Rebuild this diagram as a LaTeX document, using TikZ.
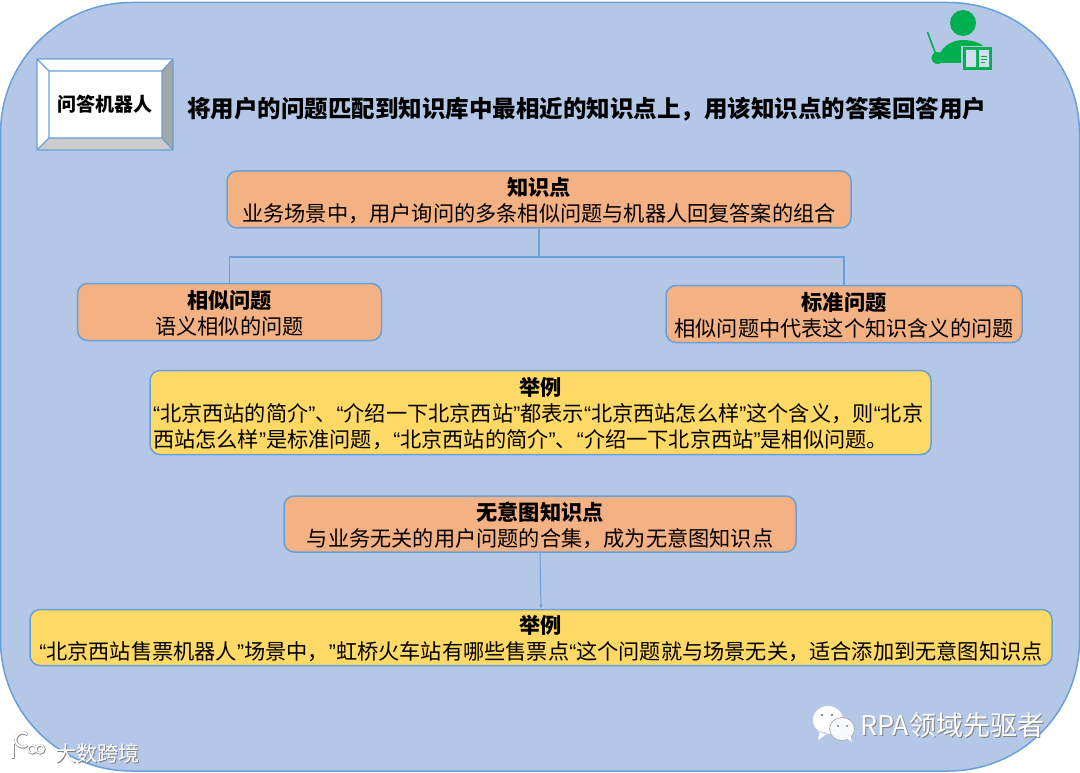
\documentclass[tikz,border=0pt]{standalone}
\usepackage{fontspec}
\setmainfont{Noto Sans CJK SC}
\newfontfamily\quotefont{Liberation Sans}
\newcommand{\openq}{{\quotefont “}}
\newcommand{\closeq}{{\quotefont ”}}
\newcommand{\toplabel}[1]{\rule{0pt}{21pt}\textbf{#1}}
\usepackage{xcolor}
\usetikzlibrary{arrows.meta,positioning,calc}
\definecolor{panelblue}{RGB}{180,199,231}
\definecolor{edgeblue}{RGB}{105,160,215}
\definecolor{peach}{RGB}{244,177,131}
\definecolor{butter}{RGB}{255,217,102}
\definecolor{icongreen}{RGB}{0,176,80}

\begin{document}
\begin{tikzpicture}[
    x=1pt, y=-1pt,
    topic/.style={draw=edgeblue, line width=1.5pt, rounded corners=10pt, fill=peach, text=black, inner sep=0pt,
                  font=\fontsize{21.2}{26}\selectfont, align=center},
    sample/.style={topic, fill=butter},
    line/.style={draw=edgeblue, line width=1.5pt},
    stamp/.style={text=white, inner sep=0pt, anchor=west},
    stampshade/.style={text=black!50, inner sep=0pt, anchor=west}
]
\useasboundingbox (0,0) rectangle (1080,773);
\fill[white] (0,0) rectangle (1080,773);
% background panel
\draw[draw=edgeblue, line width=1.5pt, fill=panelblue, rounded corners=131pt] (0.5,2.5) rectangle (1079.5,771);

% bevel box
\fill[white] (37,59) rectangle (173,150);
\fill[black!35] (173,59) -- (162,71) -- (162,138) -- (173,150) -- cycle;
\fill[black!20] (37,150) -- (49,138) -- (162,138) -- (173,150) -- cycle;
\draw[edgeblue, line width=1.2pt] (37,59) rectangle (173,150) (49,71) rectangle (162,138)
  (37,59) -- (49,71) (173,59) -- (162,71) (173,150) -- (162,138) (37,150) -- (49,138);
\node[inner sep=0pt, font=\fontsize{19}{24}\selectfont\bfseries] (robot) at (105,104.5) {问答机器人};
\node[inner sep=0pt, anchor=west, font=\fontsize{23.5}{28}\selectfont\bfseries] (headline) at (187,109)
     {将用户的问题匹配到知识库中最相近的知识点上，用该知识点的答案回答用户};

% teacher icon
\fill[icongreen] (963,23) circle (13);
\fill[icongreen] (938,63) .. controls (938,47) and (952,40) .. (963,40) .. controls (974,40) and (984,44) .. (986,50) -- (986,63) -- cycle;
\draw[icongreen, line width=1.6pt] (927.5,32) -- (936,55);
\fill[icongreen] (937.5,58) circle (6);
\fill[panelblue] (961,46) rectangle (993,71);
\fill[icongreen] (963,47) rectangle (992,70);
\fill[panelblue!60!white] (966,50) rectangle (976,67) (979,50) rectangle (989,67);
\draw[icongreen, line width=0.8pt] (981,56) -- (987,56) (981,59) -- (987,59) (981,62) -- (985,62);

\node[topic, minimum width=624pt, minimum height=57pt] (know) at (539,199.5)
     {\toplabel{知识点}\\业务场景中，用户询问的多条相似问题与机器人回复答案的组合};
\node[topic, minimum width=304pt, minimum height=57pt, below=54pt of know, xshift=-309.5pt] (similar)
     {\toplabel{相似问题}\\语义相似的问题};
\node[topic, minimum width=356pt, minimum height=57pt, below=56pt of know, xshift=305pt] (standard)
     {\toplabel{标准问题}\\相似问题中代表这个知识含义的问题};
\node[sample, minimum width=781pt, minimum height=84pt, below=141pt of know, xshift=1.5pt] (case)
     {\toplabel{举例}\\\makebox[775pt][l]{\openq 北京西站的简介\closeq 、\openq 介绍一下北京西站\closeq 都表示\openq 北京西站怎么样\closeq 这个含义，则\openq 北京}\\\makebox[775pt][l]{西站怎么样\closeq 是标准问题，\openq 北京西站的简介\closeq 、\openq 介绍一下北京西站\closeq 是相似问题。}};
\node[topic, minimum width=512pt, minimum height=56pt, below=40pt of case, xshift=-0.5pt] (nointent)
     {\toplabel{无意图知识点}\\与业务无关的用户问题的合集，成为无意图知识点};
\node[sample, minimum width=1022pt, minimum height=56pt, below=56pt of nointent, xshift=1pt] (nocase)
     {\toplabel{举例}\\\openq 北京西站售票机器人\closeq 场景中，\closeq 虹桥火车站有哪些售票点\openq 这个问题就与场景无关，适合添加到无意图知识点};

\draw[line] (know.south) -- ++(0,28) -| (similar.north);
\draw[line] (know.south) -- ++(0,28) -| (standard.north);
\draw[line, line width=1pt, -{Latex[length=4pt,width=4pt]}] (nointent.south) -- (nocase.north);

% stamps
\fill[white] (828,720) ellipse (15 and 14) (820,731) -- (818,740) -- (828,733) -- cycle;
\draw[black!35, fill=white!90!panelblue, line width=0.6pt] (842,729) ellipse (12.5 and 11.5);
\fill[white!90!panelblue] (846,738) -- (852,742) -- (850,734) -- cycle;
\fill[black!50] (822,715) circle (1.4) (832,715) circle (1.4) (838,726) circle (1.2) (847,726) circle (1.2);
\node[stampshade, font=\fontsize{27}{30}\selectfont] (rpashade) at (861,726) {RPA领域先驱者};
\node[stamp, font=\fontsize{27}{30}\selectfont] (rpa) at (860,725) {RPA领域先驱者};
\begin{scope}[black!45, line width=3.2pt]
\draw (13.5,743.5) -- (13.5,758.5);
\draw (27.5,745.5) arc (50:310:7);
\draw[line width=2.4pt] (32.5,749.5) circle (4) (40.5,749.5) circle (4);
\end{scope}
\draw[white, line width=2pt] (13,743) -- (13,758);
\draw[white, line width=2pt] (27,745) arc (50:310:7);
\draw[white, line width=1.4pt] (32,749) circle (4) (40,749) circle (4);
\node[stampshade, font=\fontsize{21}{26}\selectfont] (bigdatashade) at (56,754) {大数跨境};
\node[stamp, font=\fontsize{21}{26}\selectfont] (bigdata) at (55,753) {大数跨境};
\end{tikzpicture}
\end{document}
